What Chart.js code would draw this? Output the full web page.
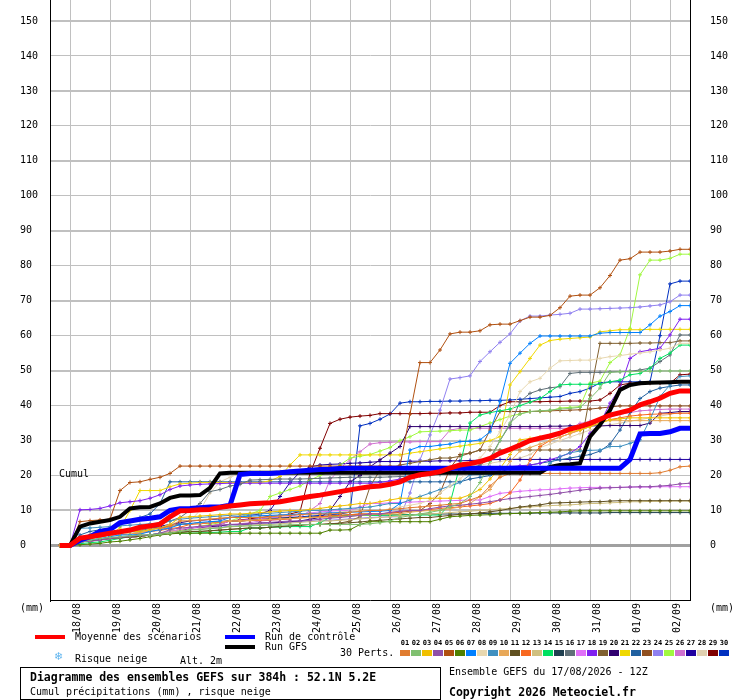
<!DOCTYPE html>
<html><head><meta charset="utf-8">
<script src="https://cdn.jsdelivr.net/npm/chart.js@4.4.1/dist/chart.umd.min.js"></script>
<style>
html,body{margin:0;padding:0;background:#fff;}
#wrap{position:relative;width:740px;height:700px;overflow:hidden;font-family:"DejaVu Sans Mono",monospace;font-size:10px;color:#000;}
#c{position:absolute;left:0;top:0;}
.t{position:absolute;white-space:pre;line-height:10px;}
.b{font-weight:bold;font-size:11.5px;line-height:12px;}
.sw{position:absolute;height:4px;width:30px;}
.nb{position:absolute;font-size:7px;line-height:7px;font-weight:bold;width:11px;text-align:center;top:640px;}
.bx{position:absolute;width:10px;height:6px;top:650px;}
</style></head><body>
<div id="wrap">
<canvas id="c" width="740" height="700"></canvas>
<div class="t" style="left:59px;top:469px;">Cumul</div>
<div class="t" style="left:20px;top:603px;">(mm)</div>
<div class="t" style="left:710px;top:603px;">(mm)</div>
<div class="sw" style="left:35px;top:635px;background:#ff0000;"></div>
<div class="t" style="left:75px;top:631.5px;">Moyenne des scénarios</div>
<div class="sw" style="left:225px;top:635px;background:#0000ff;"></div>
<div class="t" style="left:265px;top:632px;">Run de contrôle</div>
<div class="sw" style="left:225px;top:645px;background:#000000;"></div>
<div class="t" style="left:265px;top:642px;">Run GFS</div>
<div class="t" style="left:340px;top:648px;">30 Perts.</div>
<div class="t" style="left:54px;top:652px;font-family:'DejaVu Sans';font-size:11px;color:#5fb4ee;">❄</div>
<div class="t" style="left:75px;top:654px;">Risque neige</div>
<div class="t" style="left:180px;top:656px;">Alt. 2m</div>
<div style="position:absolute;left:20px;top:667px;width:421px;height:33px;border:1px solid #000;box-sizing:border-box;"></div>
<div class="t b" style="left:30px;top:671px;">Diagramme des ensembles GEFS sur 384h : 52.1N 5.2E</div>
<div class="t" style="left:30px;top:686.5px;">Cumul précipitations (mm) , risque neige</div>
<div class="t" style="left:449px;top:667px;">Ensemble GEFS du 17/08/2026 - 12Z</div>
<div class="t b" style="left:449px;top:685.5px;">Copyright 2026 Meteociel.fr</div>
<div id="mleg"></div>
</div>
<script>
// ---------- data ----------
const stepHours = 6;
const hours = []; for (let h = 6; h <= 384; h += stepHours) hours.push(h);
const dayHours = [12,36,60,84,108,132,156,180,204,228,252,276,300,324,348,372];
const dayLabels = ["18/08","19/08","20/08","21/08","22/08","23/08","24/08","25/08","26/08","27/08","28/08","29/08","30/08","31/08","01/09","02/09"];
const yTicks = [0,10,20,30,40,50,60,70,80,90,100,110,120,130,140,150];

const mean = [0,
 0,2.1,2.5,3.0, 3.5,3.9,4.4,5.2, 5.6,6.1,8.2,9.9, 10.0,10.2,10.3,10.9,
 11.3,11.6,11.9,12.1, 12.2,12.5,13.0,13.5, 14.0,14.4,14.9,15.4, 15.9,16.4,16.8,17.0,
 17.5,18.2,19.5,20.2, 20.6,21.1,22.1,23.0, 23.4,24.0,24.9,26.4, 27.5,28.7,30.0,30.7,
 31.3,32.1,33.3,34.0, 34.9,36.1,37.3,38.0, 38.7,40.2,41.1,42.1, 43.5,44.2,44.2];
const control = [0,
 0,1.5,2.5,4.0, 4.5,6.5,7.0,7.5, 7.8,8.2,10.0,10.5, 10.6,10.8,11.0,11.0,
 11.5,20.3,20.6,20.6, 20.6,20.8,21.1,21.3, 21.5,21.7,21.8,22.0, 22.1,22.1,22.1,22.1,
 22.1,22.1,22.1,22.1, 22.1,22.1,22.1,22.1, 22.1,22.1,22.1,22.1, 22.1,22.1,22.1,22.1,
 22.1,22.1,22.1,22.1, 22.1,22.1,22.1,22.1, 24.6,31.9,32.0,32.0, 32.5,33.5,33.5];
const gfs = [0,
 0,5.4,6.3,6.8, 7.3,8.2,10.6,10.9, 11.0,12.0,13.6,14.3, 14.3,14.4,16.5,20.6,
 20.8,20.8,20.8,20.8, 20.8,20.8,20.8,20.8, 20.8,20.8,20.8,20.8, 20.8,20.8,20.8,20.8,
 20.8,20.8,20.8,20.8, 20.8,20.8,20.8,20.8, 20.8,20.8,20.8,20.8, 20.8,20.8,20.8,20.8,
 22.5,23.0,23.2,23.5, 31.1,34.5,38.7,44.5, 45.9,46.4,46.5,46.6, 46.7,46.8,46.8];

const m01 = [0, 0,2,3,3, 4,4,4,4.5, 5,5,5.5,7, 7,7.2,7.5,7.8, 8,8,8,8, 8.2,8.4,8.6,8.8, 9,9,9,9.2, 9.5,9.8,10,10, 10.3,10.5,10.8,11, 11.3,11.5,11.8,12, 13,14,17,19.5, 20.6,20.6,20.6,20.6, 20.6,20.6,20.6,20.6, 20.6,20.6,20.6,20.6, 20.6,20.6,20.6,20.8, 21.5,22.5,22.7];
const m02 = [0, 0,1,1.5,2, 2.3,2.5,2.8,3, 3,3.2,3.5,4, 4.5,4.5,4.8,5, 5.5,5.5,5.6,5.7, 5.8,5.8,5.9,6, 6,6,6,6, 6,6,6.2,6.5, 7,8,8.5,9, 9.5,10,11,12, 14,18,24,30, 35,37.6,38.3,38.5, 38.7,39,39.2,39.5, 42,45,49.5,49.7, 49.7,49.8,49.8,49.9, 49.9,49.9,49.9];
const m03 = [0, 0,1.5,2,2.5, 3,3.5,4,4, 4.5,5,6,8, 8.2,8.4,8.6,8.8, 9,9,9.2,9.4, 9.6,9.8,10,10, 10.3,10.6,11,11.3, 11.6,12,12,12.5, 13,13.5,13.5,13.5, 13.5,13.5,13.5,13.5, 14.5,16,19,22, 26,30.2,30.6,31, 31.5,32,32.5,33, 34,35,35.9,36.2, 36.5,36.5,36.5,36.5, 36.5,36.5,36.5];
const m04 = [0, 0,1,1.2,1.5, 2,2.3,2.6,3, 3,3.5,4.5,5, 5.2,5.5,5.7,5.8, 6,6,6.2,6.4, 6.6,6.8,7,7, 7.2,7.5,7.8,8, 8.3,8.6,9,9, 9.5,9.8,10,10, 10.5,11,11.3,11.5, 11.8,12.1,12.5,13, 13.4,13.7,14,14.3, 14.6,15,15.4,15.8, 16.1,16.4,16.5,16.6, 16.7,16.8,16.8,17, 17.2,17.6,17.8];
const m05 = [0, 0,6.8,7.1,7.3, 7.5,15.7,18.0,18.2, 18.9,19.5,20.6,22.7, 22.7,22.7,22.7,22.7, 22.7,22.7,22.7,22.7, 22.7,22.7,22.7,22.7, 22.7,22.7,22.7,22.7, 22.7,22.7,22.7,22.7, 22.7,22.7,37.6,52.3, 52.3,55.9,60.5,61.0, 61.0,61.4,63.1,63.3, 63.3,64.3,65.3,65.3, 65.8,68.0,71.3,71.6, 71.6,73.7,77.2,81.6, 82.0,83.9,83.9,83.9, 84.2,84.7,84.7];
const m06 = [0, 0,0.2,0.4,0.6, 1,1.2,1.6,2, 2.5,3,3.3,3.5, 3.5,3.5,3.5,3.5, 3.5,3.5,3.5,3.5, 3.5,3.5,3.5,3.5, 3.5,3.5,4.4,4.4, 4.5,6,6.8,6.8, 6.8,6.8,6.8,6.8, 6.8,7.5,8.2,8.4, 8.6,8.7,8.8,9, 9.1,9.2,9.3,9.4, 9.5,9.6,9.8,9.9, 9.9,9.9,9.9,9.9, 9.9,9.9,9.9,9.9, 9.9,9.9,9.9];
const m07 = [0, 0,1,1.5,2, 2.5,3,3,3.2, 4,4.5,5,6, 6.3,6.6,6.8,7, 8,8.2,8.4,8.5, 8.6,8.7,8.8,9, 9.1,9.2,9.3,9.4, 9.5,9.6,9.7,9.8, 10,12,27.3,28.3, 28.3,28.7,29,29.7, 29.8,30.2,32.5,41.1, 52.1,55.0,57.8,59.9, 59.9,59.9,59.9,59.9, 59.9,60.7,60.9,60.9, 60.9,60.9,63.1,65.6, 66.9,68.6,68.6];
const m08 = [0, 0,2,2.3,2.6, 3,3.3,3.6,4, 4.5,5,6,7, 7.2,7.4,7.6,7.8, 8,8.2,8.4,8.5, 8.6,8.7,8.8,9, 9.1,9.2,9.4,9.6, 9.8,10,10,10, 10.5,11,11.5,12, 13,15,17,19, 21.6,25,28.3,32.5, 37.3,44,46.8,47.8, 50.7,52.8,52.9,53, 53,53.5,54,54.3, 54.7,55,55.4,55.9, 56.4,57.8,57.8];
const m09 = [0, 0,4.9,5,5.2, 5.4,5.6,5.8,6, 6.2,6.4,7,7.5, 7.8,8,8.2,8.4, 8.6,8.8,9,9, 9.2,9.4,9.6,9.8, 10,10,10.2,10.4, 10.6,10.8,11,11.5, 12,12,13,14, 15,16,17,18, 20.2,20.3,20.4,20.5, 20.6,20.6,20.6,20.6, 23.5,25.4,26.5,27, 27.2,27.3,28.3,28.3, 29.2,30.2,36,42.6, 45.9,48.3,48.5];
const m10 = [0, 0,2,2.3,2.6, 3,3.2,3.4,3.6, 4,4.5,5.5,6, 6.2,6.4,6.6,6.8, 7,7,7.2,7.4, 7.5,7.6,7.7,7.8, 8,8,8.1,8.2, 8.4,8.6,8.8,9, 9,9,9.5,9.8, 10,10,10.5,11, 12,14,16,20, 24,27,28,29, 30,31,32,33, 34,35.7,35.7,35.7, 35.7,35.7,35.7,35.7, 35.7,35.7,35.7];
const m11 = [0, 0,1,1.3,1.6, 2,2.2,2.4,2.6, 3,3.2,3.5,3.8, 4,4,4.2,4.4, 4.6,4.8,5,5, 5.2,5.4,5.6,5.8, 6,6,6.2,6.3, 6.5,6.7,7,7.2, 7.4,7.6,7.8,8, 8,8.3,8.6,8.9, 9,9.3,9.6,10, 10.5,11,11.3,11.6, 12.1,12.2,12.3,12.4, 12.5,12.5,12.7,12.8, 12.8,12.8,12.8,12.8, 12.8,12.8,12.8];
const m12 = [0, 0,2,2.3,2.6, 3,3.2,3.4,3.6, 4,4.3,4.8,5.2, 6,6.2,6.4,6.6, 7,7,7.1,7.2, 7.3,7.4,7.6,8, 8,8.2,8.4,8.6, 8.8,9,9,9, 9.3,9.6,10,10, 10.3,10.6,10.8,11, 11.3,11.6,12,13, 15,18.7,24.4,28.3, 30,31,32,33, 34,35,36,36.5, 37,37.3,37.5,37.6, 37.7,37.8,37.8];
const m13 = [0, 0,1,1.3,1.6, 2,2.2,2.4,2.6, 3,3.3,3.8,4.2, 4.5,4.7,5,5, 5.3,5.5,5.8,6, 6,6.2,6.4,6.6, 6.8,7,7,7.2, 7.4,7.6,7.8,8, 8.2,8.4,8.6,9, 9,9.2,9.4,9.6, 9.8,10,10.2,10.4, 10.6,10.8,11,11.2, 11.4,11.5,11.6,11.8, 12,12,12.2,12.3, 12.5,12.5,12.6,12.6, 12.7,12.7,12.7];
const m14 = [0, 0,0.5,0.8,1, 1.5,2,2.5,2.8, 3,3.5,3.5,3.5, 3.5,3.6,3.7,3.8, 4,4,5,5, 5.2,5.3,5.4,5.4, 5.4,6.5,8,8.5, 8.5,8.6,8.6,8.6, 8.7,8.7,8.7,8.7, 8.7,8.7,12,23, 35,37.3,38,38.5, 39,40,41,42, 44,45.9,46.1,46.1, 46.1,46.1,46.8,47.3, 48.8,49.2,50.7,53.5, 55,57.3,57.3];
const m15 = [0, 0,2,2.3,2.6, 3,3.3,3.6,4, 4.5,5,5.5,6, 6.2,6.4,6.6,6.8, 7,7,7.2,7.4, 7.6,7.8,8,8, 8.1,8.2,8.3,8.4, 8.5,8.6,8.7,8.7, 8.7,8.8,8.8,8.9, 9,9,9,9, 9.1,9.1,9.2,9.2, 9.2,9.2,9.2,9.3, 9.3,9.3,9.3,9.3, 9.3,9.3,9.4,9.4, 9.4,9.4,9.4,9.4, 9.4,9.4,9.4];
const m16 = [0, 0,2,2.3,2.6, 3,3.3,3.6,4, 5,6,7,8, 10,12,15.4,16, 17,17.5,18.7,18.8, 18.9,19,19,19, 19.1,19.2,19.3,19.4, 19.5,19.5,19.5,19.5, 19.6,19.7,19.8,19.9, 20,20.3,20.6,21, 22,23,25,30, 34.5,41.1,43.5,44.5, 45.1,45.4,49.2,49.5, 49.5,49.5,49.6,49.7, 49.8,50.2,50.7,52.6, 54.5,60.2,60.2];
const m17 = [0, 0,1,1.3,1.6, 2,2.2,2.4,2.6, 3,3.5,4,4.5, 5,5.3,5.6,6, 7,7.2,7.4,7.6, 7.8,8,8.2,9, 9.3,9.6,9.8,10, 10,11,12,12, 12.2,12.3,12.4,12.5, 12.6,12.7,12.8,12.9, 13,13,14,14.9, 15.2,15.5,15.7,15.9, 16,16.2,16.4,16.5, 16.6,16.6,16.6,16.6, 16.7,16.7,16.7,16.8, 16.8,16.8,16.8];
const m18 = [0, 0,10.2,10.3,10.6, 11.3,12.2,12.5,12.8, 13.5,14.5,16,17, 17.3,17.5,17.6,17.7, 17.8,17.8,17.8,17.8, 17.8,17.8,17.8,17.8, 17.8,17.8,17.8,17.8, 17.8,17.8,17.8,18, 18.5,19,19.5,20, 20.5,21,21.5,22, 22,22.2,22.5,22.5, 22.6,22.8,23,23.5, 24.5,25.4,26.4,28.3, 32.1,34.9,40.7,45, 53.5,55.4,55.9,56.4, 60.2,64.7,64.7];
const m19 = [0, 0,1,1.3,1.6, 2,2.2,2.4,2.6, 3,3.2,3.4,3.6, 4,4,4.2,4.4, 4.6,4.8,5,5, 5.2,5.4,5.6,5.8, 6,6,6.2,6.4, 7,8.2,16.8,21.6, 22,23,23.5,24, 24.5,25,25,25.5, 26.4,27.3,27.3,27.3, 27.3,27.3,27.3,27.3, 27.3,27.3,27.3,27.3, 43,57.8,57.8,57.8, 57.8,57.9,57.9,58, 58,58.5,58.5];
const m20 = [0, 0,1,1.3,1.6, 2,2.2,2.4,2.6, 3,3.3,3.6,4, 5,5.2,5.4,5.6, 6,6,6.2,6.4, 6.5,6.6,6.8,7, 7.5,8,10,14, 18.2,20,22.5,24.5, 26.4,28.3,34,34, 34,34,34,34, 34,34,34,34, 34,34,34,34, 34.1,34.1,34.2,34.2, 34.2,34.2,34.3,34.3, 34.3,34.3,35,37.8, 38,38.3,38.3];
const m21 = [0, 0,1.5,2,2.5, 3,5,10,15.7, 15.7,15.7,16.8,17.6, 17.8,18,18,18, 18,18,18,18, 18.5,19.7,23,25.9, 25.9,25.9,25.9,25.9, 25.9,25.9,25.9,25.9, 25.9,25.9,26.4,26.8, 27.2,27.6,28,28.4, 28.8,29.2,30,31.1, 45.9,49.7,53.5,57.3, 58.6,59,59.2,59.4, 59.6,61.1,61.4,61.7, 61.7,61.7,61.8,61.8, 61.8,61.8,61.8];
const m22 = [0, 0,3,4,4.5, 5,6,7,8, 9,12,18.2,18.2, 18.2,18.2,18.2,18.2, 18.2,18.2,18.2,18.2, 18.2,18.2,18.2,18.2, 18.2,18.2,18.2,18.2, 18.2,18.2,18.2,18.2, 18.2,18.2,18.2,18.2, 18.2,18.2,18.2,18.2, 19,19.5,20,21, 22,22.5,23,23.5, 24,24.5,25,25.5, 26,27,29,33, 38,42,44,45, 45.5,45.9,45.9];
const m23 = [0, 0,2,2.3,2.6, 3,3.2,3.4,3.6, 4,4.5,5.5,6, 6.2,6.4,6.6,6.8, 7,7,7.2,7.4, 7.5,7.6,7.8,8, 8,8.2,8.4,8.6, 8.8,9,9,9, 9.2,9.5,9.8,10, 12,15,22,26, 26.4,27.3,33,38.3, 38.3,38.3,38.3,38.4, 38.5,38.6,38.7,38.8, 39,39.3,39.6,39.9, 39.9,39.9,39.9,39.9, 39.9,39.9,39.9];
const m24 = [0, 0,1,1.3,1.6, 2,2.2,2.4,2.6, 3,3.3,3.6,4, 4.5,4.7,5,5.2, 5.5,5.7,6,6, 6.2,6.4,6.6,6.8, 7,7,7.2,7.4, 7.6,7.8,8,8.1, 8.2,8.2,15,24.5, 31.6,38.7,47.6,48.0, 48.5,52.6,55.4,58.1, 60.5,64.2,65.6,65.6, 65.9,66.1,66.4,67.6, 67.6,67.7,67.8,67.9, 68,68.2,68.5,68.8, 69.7,71.6,71.6];
const m25 = [0, 0,1,1.3,1.6, 2,2.2,2.4,2.6, 3,3.5,4,4.5, 5,5.5,6,6.5, 7,8,9,10, 14,15,16,17, 18.7,20,21.1,23, 25,25.5,26,27, 28,30,31.1,32.5, 32.6,32.7,32.8,33, 33,34,35,36, 37,37.6,38.3,38.4, 38.5,39.3,39.5,39.7, 46.4,47,52.3,54.5, 62.1,77.4,81.6,81.6, 82.1,83.3,83.3];
const m26 = [0, 0,1,1.3,1.6, 2,2.2,2.4,2.6, 3,3.3,3.6,4, 5,5.2,5.4,5.6, 6,6.2,6.5,7, 7.2,7.4,7.6,8, 10,12,18.7,22, 24.5,26.8,29,29.4, 29.5,29.6,29.6,29.7, 29.7,29.7,33,33.5, 33.5,33.5,33.5,33.5, 33.5,33.5,33.5,33.5, 33.5,33.5,33.5,34.9, 35.5,36,36.8,37.5, 38,38.5,38.7,38.9, 39,39,39];
const m27 = [0, 0,1.5,2,2.5, 3,3.5,4,4.5, 5,5.5,6,6.5, 7,7.2,7.4,7.6, 8,8.3,8.6,9, 10,14,18,21, 22.5,23,23.2,23.3, 23.5,23.6,23.8,24, 24,24,24.1,24.1, 24.1,24.2,24.2,24.2, 24.3,24.4,24.5,24.6, 24.6,24.6,24.6,24.6, 24.6,24.6,24.6,24.6, 24.6,24.6,24.6,24.6, 24.6,24.6,24.6,24.6, 24.6,24.6,24.6];
const m28 = [0, 0,2,2.3,2.6, 3,3.3,3.6,4, 4.5,5,6,6.5, 7,10,15,18.2, 19.5,20.6,21,21, 21.1,21.2,21.3,21.5, 21.5,21.5,21.6,21.7, 21.8,21.8,21.9,22, 22,22,22.2,22.3, 22.4,22.5,22.6,22.7, 22.8,23,23.5,24, 24.5,25,26,28, 29,30,31,32, 33,34,34.5,35, 35.5,36,36.5,37, 37.5,38,38];
const m29 = [0, 0,1,1.3,1.6, 2,2.2,2.4,2.6, 3,3.5,4,4.5, 5,5.3,5.6,6, 7,7.3,7.6,8, 8.3,8.6,9,9.7, 20.6,27.8,34.9,36.1, 36.7,37,37.2,37.7, 37.7,37.7,37.7,37.7, 37.8,37.8,37.9,37.9, 38.1,38.1,38.1,40, 41.1,41.1,41.1,41.1, 41.2,41.2,41.3,41.3, 41.3,41.6,43.5,45.9, 46.4,46.4,46.4,46.4, 46.4,48.8,49.0];
const m30 = [0, 0,2,2.5,3, 3.5,4,4.5,4.8, 5,5.3,5.6,6, 6.2,6.4,6.6,6.8, 7,7.2,7.4,7.6, 7.8,8,8,8.2, 8.4,8.6,8.8,9, 9.5,34.2,34.9,36.1, 37.6,40.7,41.1,41.1, 41.2,41.2,41.3,41.3, 41.4,41.4,41.5,41.5, 41.6,41.8,42,42.2, 42.4,42.6,43.5,44, 45,46.5,46.8,46.8, 46.8,46.8,46.8,60, 74.8,75.6,75.6];

const members = [m01,m02,m03,m04,m05,m06,m07,m08,m09,m10,m11,m12,m13,m14,m15,m16,m17,m18,m19,m20,m21,m22,m23,m24,m25,m26,m27,m28,m29,m30];
const memberNames = ["01","02","03","04","05","06","07","08","09","10","11","12","13","14","15","16","17","18","19","20","21","22","23","24","25","26","27","28","29","30"];
const memberColors = ["#e07c30","#80c070","#f0c000","#9050a8","#b05010","#508000","#0080ff","#e8d8b0","#4090c0","#e8a858",
 "#605020","#f86820","#d0c080","#00e060","#204050","#607078","#e070f8","#8020f0","#806030","#300070",
 "#f0d800","#2060a0","#905020","#9080f0","#a0f840","#d070d0","#2000a0","#e0d0b0","#800000","#0030c0"];

// ---------- member legend (HTML) ----------
const leg = document.getElementById('mleg');
memberNames.forEach((n, k) => {
  const l = document.createElement('div'); l.className = 'nb t';
  l.style.left = (400 + 11 * k - 0.5) + 'px'; l.textContent = n; leg.appendChild(l);
  const b = document.createElement('div'); b.className = 'bx';
  b.style.left = (400 + 11 * k) + 'px'; b.style.background = memberColors[k]; leg.appendChild(b);
});

// ---------- chart ----------
const FONT = {family: "'DejaVu Sans Mono', monospace", size: 10};
const datasets = [
  {label: 'Moyenne', data: mean, borderColor: '#ff0000', borderWidth: 5, pointRadius: 0},
  {label: 'Contrôle', data: control, borderColor: '#0000ff', borderWidth: 5, pointRadius: 0},
  {label: 'GFS', data: gfs, borderColor: '#000000', borderWidth: 4, pointRadius: 0}
];
members.forEach((arr, k) => datasets.push({
  label: memberNames[k], data: arr, borderColor: memberColors[k], backgroundColor: memberColors[k],
  borderWidth: 1, pointStyle: 'cross', pointRadius: 2, pointBorderWidth: 1, pointBorderColor: memberColors[k]
}));

const setYTicks = s => { s.ticks = yTicks.map(v => ({value: v})); };
const noPad = s => { s.paddingTop = 0; s.paddingBottom = 0; s.paddingLeft = 0; s.paddingRight = 0; };

new Chart(document.getElementById('c'), {
  type: 'line',
  data: {labels: hours, datasets},
  options: {
    responsive: false, animation: false, devicePixelRatio: 1,
    layout: {autoPadding: false, padding: {left: 20, right: 0, top: 0, bottom: 0}},
    elements: {line: {tension: 0, fill: false}},
    plugins: {legend: {display: false}, tooltip: {enabled: false}},
    scales: {
      x: {
        type: 'linear', min: 0, max: 384,
        afterBuildTicks: s => { s.ticks = dayHours.map(v => ({value: v})); },
        afterFit: s => { s.height = 100; noPad(s); },
        ticks: {autoSkip: false, maxRotation: 90, minRotation: 90, padding: 3, labelOffset: 7,
                color: '#000', font: FONT, callback: (v, i) => dayLabels[i]},
        grid: {color: '#c0c0c0', lineWidth: 1, drawTicks: false},
        border: {color: '#000', width: 1}
      },
      y: {
        position: 'left', min: -15.6, max: 156,
        afterBuildTicks: setYTicks,
        afterFit: s => { s.width = 30; noPad(s); },
        ticks: {crossAlign: 'far', padding: 0, color: '#000', font: FONT},
        grid: {drawTicks: false,
          color: c => (c.tick && c.tick.value === 0) ? '#a0a0a0' : '#c0c0c0',
          lineWidth: c => { const v = c.tick ? c.tick.value : 1; return v === 0 ? 3 : ((v / 10) % 2 === 1 ? 2 : 1); }},
        border: {color: '#000', width: 1}
      },
      y2: {
        position: 'right', min: -15.6, max: 156,
        afterBuildTicks: setYTicks,
        afterFit: s => { s.width = 50; noPad(s); },
        ticks: {padding: 20, color: '#000', font: FONT},
        grid: {display: false, drawTicks: false},
        border: {color: '#000', width: 1}
      }
    }
  }
});
</script>
</body></html>
